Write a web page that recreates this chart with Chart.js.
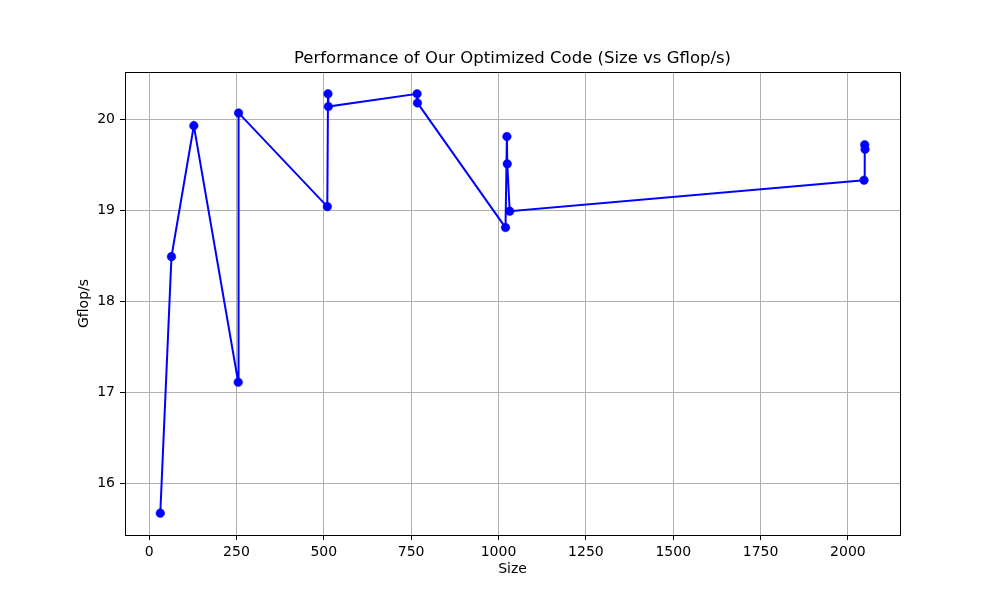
<!DOCTYPE html>
<html>
<head>
<meta charset="utf-8">
<script src="https://cdn.jsdelivr.net/npm/chart.js@4/dist/chart.umd.min.js"></script>
<style>
    html, body { margin: 0; padding: 0; background: #fff; }
    #wrap { width: 1000px; height: 600px; }
</style>
</head>
<body>
<div id="wrap"><canvas id="chartRendimiento" width="1000" height="600"></canvas></div>
<script>
// Datos
const tamanos = [32, 64, 128, 255, 256, 510, 512, 513, 767, 768, 1020, 1024, 1025, 1032, 2046, 2048, 2049];
const gflops = [15.67, 18.49, 19.93, 17.11, 20.07, 19.04, 20.28, 20.14, 20.28, 20.18, 18.81, 19.81, 19.51, 18.99, 19.33, 19.72, 19.67];

const ticksX = [0, 250, 500, 750, 1000, 1250, 1500, 1750, 2000];
const ticksY = [16, 17, 18, 19, 20];

const tituloGrafica = 'Performance of Our Optimized Code (Size vs Gflop/s)';
const fuente = 'DejaVu Sans';

// Marco completo y titulo centrado sobre el area de la grafica
const marcoYTitulo = {
    id: 'marcoYTitulo',
    afterDraw(chart) {
        const { ctx, chartArea } = chart;
        ctx.save();
        ctx.strokeStyle = '#000';
        ctx.lineWidth = 1;
        ctx.strokeRect(chartArea.left + 0.5, chartArea.top + 0.5, chartArea.right - chartArea.left, chartArea.bottom - chartArea.top);
        ctx.fillStyle = '#000';
        ctx.font = '16.5px "' + fuente + '"';
        ctx.textAlign = 'center';
        ctx.textBaseline = 'middle';
        ctx.fillText(tituloGrafica, (chartArea.left + chartArea.right) / 2, 58.5);
        ctx.restore();
    }
};

const ctx = document.getElementById('chartRendimiento').getContext('2d');

window.graficaRendimiento = new Chart(ctx, {
    type: 'scatter',
    data: {
        datasets: [{
            label: 'Gflop/s',
            data: tamanos.map((t, i) => ({ x: t, y: gflops[i] })),
            showLine: true,
            borderColor: '#0000ff',
            backgroundColor: '#0000ff',
            borderWidth: 2,
            pointRadius: 4.3,
            pointHoverRadius: 4.3,
            pointBorderWidth: 0.5,
            pointBackgroundColor: '#0000ff',
            pointBorderColor: '#0000ff',
            tension: 0
        }]
    },
    options: {
        responsive: false,
        animation: false,
        devicePixelRatio: 1,
        layout: {
            padding: { top: 72, right: 100, bottom: 0, left: 0 }
        },
        plugins: {
            legend: { display: false },
            tooltip: { enabled: false },
            title: { display: false }
        },
        scales: {
            x: {
                type: 'linear',
                min: -69,
                max: 2149,
                afterBuildTicks: function (scale) {
                    scale.ticks = ticksX.map(v => ({ value: v }));
                },
                afterFit: function (scale) {
                    scale.height = 65;
                },
                grid: {
                    color: '#b0b0b0',
                    lineWidth: 1,
                    tickColor: '#000',
                    tickLength: 5
                },
                border: { color: '#000', width: 1 },
                ticks: {
                    color: '#000',
                    padding: 4,
                    maxRotation: 0,
                    font: { family: fuente, size: 14 },
                    callback: function (value) {
                        return String(value); // sin separador de miles
                    }
                },
                title: {
                    display: true,
                    text: 'Size',
                    color: '#000',
                    font: { family: fuente, size: 14 },
                    padding: { top: 4, bottom: 22 }
                }
            },
            y: {
                type: 'linear',
                min: 15.43,
                max: 20.52,
                afterBuildTicks: function (scale) {
                    scale.ticks = ticksY.map(v => ({ value: v }));
                },
                afterFit: function (scale) {
                    scale.width = 125;
                },
                grid: {
                    color: '#b0b0b0',
                    lineWidth: 1,
                    tickColor: '#000',
                    tickLength: 5
                },
                border: { color: '#000', width: 1 },
                ticks: {
                    color: '#000',
                    padding: 5,
                    font: { family: fuente, size: 14 },
                    callback: function (value) {
                        return String(value);
                    }
                },
                title: {
                    display: true,
                    text: 'Gflop/s',
                    color: '#000',
                    font: { family: fuente, size: 14 },
                    padding: { top: 76, bottom: 4 }
                }
            }
        }
    },
    plugins: [marcoYTitulo]
});
</script>
</body>
</html>
